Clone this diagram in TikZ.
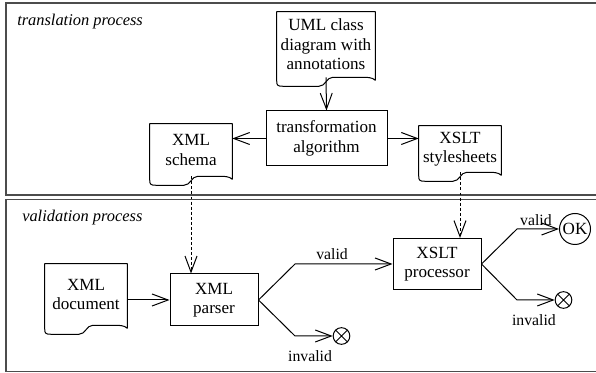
\documentclass[tikz,border=0pt]{standalone}
\usepackage{fontspec}
\setmainfont{Liberation Serif}
\usetikzlibrary{calc,arrows.meta}

\begin{document}
\begin{tikzpicture}[
  x=0.75pt, y=-0.75pt,
  box/.style={draw, line width=0.75pt, align=center, inner sep=2pt, font={\fontsize{12.8}{14.5}\selectfont}},
  doc/.style={align=center, inner sep=2pt, font={\fontsize{12.8}{14.5}\selectfont},
    append after command={\pgfextra{%
      \draw[line width=0.75pt, line join=round]
        (\tikzlastnode.north west) -- (\tikzlastnode.north east)
        -- ($(\tikzlastnode.south east)+(0,3)$)
        .. controls ($(\tikzlastnode.south east)+(-3,0)$) and ($(\tikzlastnode.south east)+(-8,0)$) .. ($(\tikzlastnode.south east)+(-14,0)$)
        -- ($(\tikzlastnode.south)+(7,0)$)
        .. controls ($(\tikzlastnode.south)+(0,0)$) and ($(\tikzlastnode.south)+(0,9)$) .. ($(\tikzlastnode.south)+(-7,9)$)
        -- ($(\tikzlastnode.south west)+(6,9)$)
        .. controls ($(\tikzlastnode.south west)+(1,9)$) and ($(\tikzlastnode.south west)+(0,8)$) .. ($(\tikzlastnode.south west)+(0,4)$)
        -- cycle;}}},
  arr/.style={-{Straight Barb[length=12pt, width=9pt]}, line width=0.75pt},
  dotarr/.style={arr, dash pattern=on 2.2pt off 1.6pt},
  lbl/.style={font={\fontsize{11.8}{13}\selectfont}, inner sep=1.5pt},
  endx/.style={circle, draw, line width=0.75pt, minimum size=12.5pt, inner sep=0pt,
    path picture={\draw[line width=0.75pt]
      (path picture bounding box.north west) -- (path picture bounding box.south east)
      (path picture bounding box.north east) -- (path picture bounding box.south west);}},
  okend/.style={circle, draw, line width=0.75pt, minimum size=23.25pt, inner sep=0pt, font={\fontsize{12.8}{14.5}\selectfont}},
  frame/.style={draw=black!70, line width=1.1pt},
  title/.style={anchor=west, inner sep=0pt, font={\fontsize{12.3}{14}\selectfont\itshape}}
]
\useasboundingbox (0,0) rectangle (596,373);
\clip (0,0) rectangle (596,373);

% the two process frames
\draw[frame] (6,3) rectangle (602,195);
\draw[frame] (6,199.5) rectangle (602,371.5);
\node[title] (ttl1) at (17,21.5) {translation process};
\node[title] (ttl2) at (22,217.5) {validation process};

% translation
\node[doc, minimum width=73.5pt, minimum height=48.75pt] (uml) at (326,44.5) {UML class\\diagram with\\annotations};
\node[box, minimum width=90.75pt, minimum height=41.25pt] (trans) at (326.5,138.5) {transformation\\algorithm};
\node[doc, minimum width=61.5pt, minimum height=39pt] (schema) at (191,150) {XML\\schema};
\node[doc, minimum width=61.5pt, minimum height=34.5pt] (sheets) at (460,149) {XSLT\\stylesheets};

\draw[arr] (uml.south) -- (trans.north);
\draw[arr] (trans.west) -- (trans.west -| schema.east);
\draw[arr] (trans.east) -- (trans.east -| sheets.west);

% validation
\node[doc, minimum width=61.5pt, minimum height=45.75pt] (xmldoc) at (86,294.5) {XML\\document};
\node[box, minimum width=66pt, minimum height=39pt] (parser) at (214,300) {XML\\parser};
\node[box, minimum width=66pt, minimum height=38.25pt] (xproc) at (437,264) {XSLT\\processor};
\node[endx] (bad1) at (341.5,336) {};
\node[endx] (bad2) at (563.5,300) {};
\node[okend] (ok) at (575,229) {OK};

\coordinate (pv) at (295,264);
\coordinate (pi) at (295,336);
\coordinate (xv) at (517,229);
\coordinate (xi) at (517,300);

\draw[dotarr] (schema.south) -- (parser.north -| schema.south);
\draw[dotarr] (sheets.south) -- (xproc.north -| sheets.south);
\draw[arr] (parser.west -| xmldoc.east) -- (parser.west);

\draw[arr] (parser.east) -- (pv) -- node[lbl, above=1.5pt, pos=0.38] {valid} (xproc.west);
\draw[arr] (parser.east) -- (pi) -- node[lbl, below=9pt, pos=0.4] {invalid} (bad1);
\draw[arr] (xproc.east) -- (xv) -- node[lbl, above=0.5pt, pos=0.45] {valid} (ok);
\draw[arr] (xproc.east) -- (xi) -- node[lbl, below=9pt, pos=0.45] {invalid} (bad2);
\end{tikzpicture}
\end{document}
